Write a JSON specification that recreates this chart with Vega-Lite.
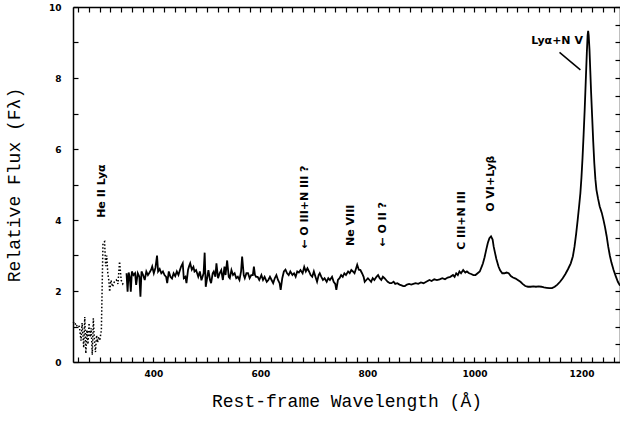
{
  "$schema": "https://vega.github.io/schema/vega-lite/v6.json",
  "width": 547,
  "height": 355,
  "autosize": {"type": "none"},
  "padding": {"left": 73, "top": 7, "right": 0, "bottom": 60},
  "background": "white",
  "config": {
    "view": {"stroke": null},
    "axis": {
      "domainColor": "black", "domainWidth": 1.5, "tickColor": "black", "tickWidth": 1.2, "ticks": true,
      "labelFont": "DejaVu Sans", "labelFontWeight": "bold", "labelFontSize": 9, "labelColor": "black",
      "titleFont": "Liberation Mono", "titleFontWeight": "normal", "titleFontSize": 18, "titleColor": "black",
      "grid": false, "labelOverlap": false, "labelFlush": false
    }
  },
  "datasets": {
    "specdata": [
      {"w":250,"f":1.10,"p":"d"},{"w":253,"f":1.13,"p":"d"},{"w":256,"f":1.00,"p":"d"},{"w":259,"f":1.05,"p":"d"},{"w":262,"f":0.99,"p":"d"},{"w":265,"f":0.60,"p":"d"},{"w":267,"f":1.10,"p":"d"},{"w":270,"f":0.40,"p":"d"},{"w":272,"f":1.27,"p":"d"},{"w":274,"f":0.24,"p":"d"},{"w":276,"f":0.90,"p":"d"},{"w":278,"f":0.50,"p":"d"},{"w":280,"f":1.10,"p":"d"},{"w":282,"f":0.70,"p":"d"},{"w":284,"f":0.95,"p":"d"},{"w":286,"f":0.20,"p":"d"},{"w":288,"f":1.23,"p":"d"},{"w":290,"f":0.60,"p":"d"},{"w":292,"f":0.28,"p":"d"},{"w":294,"f":0.75,"p":"d"},{"w":296,"f":0.55,"p":"d"},{"w":298,"f":0.71,"p":"d"},{"w":300,"f":0.60,"p":"d"},{"w":303,"f":0.90,"p":"d"},{"w":306,"f":3.35,"p":"d"},{"w":309,"f":3.39,"p":"d"},{"w":311,"f":2.70,"p":"d"},{"w":313,"f":3.00,"p":"d"},{"w":315,"f":2.50,"p":"d"},{"w":317,"f":2.30,"p":"d"},{"w":318.5,"f":1.98,"p":"d"},{"w":321,"f":2.30,"p":"d"},{"w":324,"f":2.12,"p":"d"},{"w":327,"f":2.25,"p":"d"},{"w":331,"f":2.31,"p":"d"},{"w":334,"f":2.20,"p":"d"},{"w":337,"f":2.83,"p":"d"},{"w":340,"f":2.31,"p":"d"},{"w":343,"f":2.20,"p":"d"},{"w":346,"f":2.26,"p":"d"},
      {"w":350,"f":2.50,"p":"s"},{"w":352,"f":1.98,"p":"s"},{"w":354,"f":2.52,"p":"s"},{"w":356,"f":2.40,"p":"s"},{"w":358,"f":1.98,"p":"s"},{"w":360,"f":2.55,"p":"s"},{"w":363,"f":2.45,"p":"s"},{"w":366,"f":2.50,"p":"s"},{"w":368,"f":2.17,"p":"s"},{"w":371,"f":2.50,"p":"s"},{"w":374,"f":2.40,"p":"s"},{"w":376,"f":1.84,"p":"s"},{"w":378,"f":2.55,"p":"s"},{"w":381,"f":2.45,"p":"s"},{"w":384,"f":2.31,"p":"s"},{"w":387,"f":2.55,"p":"s"},{"w":390,"f":2.45,"p":"s"},{"w":393,"f":2.52,"p":"s"},{"w":396,"f":2.60,"p":"s"},{"w":398,"f":2.69,"p":"s"},{"w":401,"f":2.50,"p":"s"},{"w":404,"f":2.65,"p":"s"},{"w":407,"f":3.00,"p":"s"},{"w":409,"f":2.55,"p":"s"},{"w":412,"f":2.62,"p":"s"},{"w":415,"f":2.50,"p":"s"},{"w":418,"f":2.55,"p":"s"},{"w":421,"f":2.45,"p":"s"},{"w":424,"f":2.40,"p":"s"},{"w":426,"f":2.22,"p":"s"},{"w":429,"f":2.55,"p":"s"},{"w":432,"f":2.40,"p":"s"},{"w":435,"f":2.35,"p":"s"},{"w":438,"f":2.50,"p":"s"},{"w":441,"f":2.42,"p":"s"},{"w":444,"f":2.55,"p":"s"},{"w":447,"f":2.45,"p":"s"},{"w":450,"f":2.60,"p":"s"},{"w":452,"f":2.69,"p":"s"},{"w":455,"f":2.78,"p":"s"},{"w":457,"f":2.36,"p":"s"},{"w":460,"f":2.40,"p":"s"},{"w":462,"f":2.22,"p":"s"},{"w":465,"f":2.60,"p":"s"},{"w":467,"f":2.70,"p":"s"},{"w":469,"f":2.78,"p":"s"},{"w":472,"f":2.60,"p":"s"},{"w":475,"f":2.68,"p":"s"},{"w":477,"f":2.55,"p":"s"},{"w":480,"f":2.59,"p":"s"},{"w":484,"f":2.40,"p":"s"},{"w":487,"f":2.55,"p":"s"},{"w":490,"f":2.30,"p":"s"},{"w":494,"f":2.50,"p":"s"},{"w":496,"f":3.08,"p":"s"},{"w":498,"f":2.12,"p":"s"},{"w":501,"f":2.40,"p":"s"},{"w":503,"f":2.59,"p":"s"},{"w":506,"f":2.31,"p":"s"},{"w":508,"f":2.22,"p":"s"},{"w":511,"f":2.50,"p":"s"},{"w":513,"f":2.55,"p":"s"},{"w":516,"f":2.40,"p":"s"},{"w":518,"f":2.78,"p":"s"},{"w":521,"f":2.36,"p":"s"},{"w":524,"f":2.50,"p":"s"},{"w":527,"f":2.59,"p":"s"},{"w":530,"f":2.31,"p":"s"},{"w":533,"f":2.69,"p":"s"},{"w":535,"f":2.45,"p":"s"},{"w":538,"f":2.86,"p":"s"},{"w":541,"f":2.40,"p":"s"},{"w":543,"f":2.36,"p":"s"},{"w":546,"f":2.59,"p":"s"},{"w":549,"f":2.45,"p":"s"},{"w":552,"f":2.50,"p":"s"},{"w":555,"f":2.36,"p":"s"},{"w":558,"f":2.40,"p":"s"},{"w":561,"f":2.31,"p":"s"},{"w":564,"f":2.55,"p":"s"},{"w":566,"f":2.97,"p":"s"},{"w":569,"f":2.45,"p":"s"},{"w":571,"f":2.36,"p":"s"},{"w":574,"f":2.50,"p":"s"},{"w":577,"f":2.50,"p":"s"},{"w":580,"f":2.36,"p":"s"},{"w":583,"f":2.45,"p":"s"},{"w":586,"f":2.45,"p":"s"},{"w":588,"f":2.69,"p":"s"},{"w":590,"f":2.45,"p":"s"},{"w":592,"f":2.40,"p":"s"},{"w":595,"f":2.40,"p":"s"},{"w":598,"f":2.31,"p":"s"},{"w":602,"f":2.45,"p":"s"},{"w":605,"f":2.31,"p":"s"},{"w":608,"f":2.40,"p":"s"},{"w":612,"f":2.26,"p":"s"},{"w":615,"f":2.31,"p":"s"},{"w":618,"f":2.40,"p":"s"},{"w":621,"f":2.31,"p":"s"},{"w":624,"f":2.22,"p":"s"},{"w":627,"f":2.36,"p":"s"},{"w":630,"f":2.45,"p":"s"},{"w":633,"f":2.31,"p":"s"},{"w":636,"f":2.22,"p":"s"},{"w":638,"f":2.03,"p":"s"},{"w":641,"f":2.36,"p":"s"},{"w":644,"f":2.55,"p":"s"},{"w":647,"f":2.60,"p":"s"},{"w":650,"f":2.50,"p":"s"},{"w":653,"f":2.45,"p":"s"},{"w":656,"f":2.55,"p":"s"},{"w":660,"f":2.45,"p":"s"},{"w":663,"f":2.50,"p":"s"},{"w":666,"f":2.40,"p":"s"},{"w":669,"f":2.55,"p":"s"},{"w":672,"f":2.52,"p":"s"},{"w":675,"f":2.59,"p":"s"},{"w":679,"f":2.50,"p":"s"},{"w":682,"f":2.68,"p":"s"},{"w":685,"f":2.55,"p":"s"},{"w":688,"f":2.64,"p":"s"},{"w":691,"f":2.55,"p":"s"},{"w":694,"f":2.45,"p":"s"},{"w":697,"f":2.40,"p":"s"},{"w":700,"f":2.55,"p":"s"},{"w":703,"f":2.40,"p":"s"},{"w":706,"f":2.26,"p":"s"},{"w":709,"f":2.45,"p":"s"},{"w":711,"f":2.50,"p":"s"},{"w":714,"f":2.40,"p":"s"},{"w":717,"f":2.31,"p":"s"},{"w":720,"f":2.36,"p":"s"},{"w":724,"f":2.26,"p":"s"},{"w":727,"f":2.36,"p":"s"},{"w":730,"f":2.31,"p":"s"},{"w":734,"f":2.40,"p":"s"},{"w":737,"f":2.26,"p":"s"},{"w":740,"f":2.20,"p":"s"},{"w":742,"f":2.03,"p":"s"},{"w":745,"f":2.31,"p":"s"},{"w":748,"f":2.36,"p":"s"},{"w":751,"f":2.45,"p":"s"},{"w":754,"f":2.40,"p":"s"},{"w":757,"f":2.50,"p":"s"},{"w":760,"f":2.45,"p":"s"},{"w":764,"f":2.55,"p":"s"},{"w":767,"f":2.50,"p":"s"},{"w":770,"f":2.59,"p":"s"},{"w":773,"f":2.55,"p":"s"},{"w":776,"f":2.50,"p":"s"},{"w":779,"f":2.64,"p":"s"},{"w":781,"f":2.74,"p":"s"},{"w":784,"f":2.60,"p":"s"},{"w":787,"f":2.59,"p":"s"},{"w":790,"f":2.50,"p":"s"},{"w":793,"f":2.40,"p":"s"},{"w":795,"f":2.26,"p":"s"},{"w":798,"f":2.31,"p":"s"},{"w":801,"f":2.36,"p":"s"},{"w":804,"f":2.31,"p":"s"},{"w":807,"f":2.26,"p":"s"},{"w":810,"f":2.36,"p":"s"},{"w":813,"f":2.31,"p":"s"},{"w":817,"f":2.40,"p":"s"},{"w":820,"f":2.45,"p":"s"},{"w":823,"f":2.36,"p":"s"},{"w":826,"f":2.31,"p":"s"},{"w":829,"f":2.40,"p":"s"},{"w":832,"f":2.36,"p":"s"},{"w":835,"f":2.31,"p":"s"},{"w":838,"f":2.26,"p":"s"},{"w":842,"f":2.22,"p":"s"},{"w":845,"f":2.22,"p":"s"},{"w":849,"f":2.26,"p":"s"},{"w":852,"f":2.20,"p":"s"},{"w":856,"f":2.22,"p":"s"},{"w":860,"f":2.18,"p":"s"},{"w":864,"f":2.16,"p":"s"},{"w":867,"f":2.14,"p":"s"},{"w":870,"f":2.14,"p":"s"},{"w":874,"f":2.18,"p":"s"},{"w":878,"f":2.20,"p":"s"},{"w":882,"f":2.18,"p":"s"},{"w":886,"f":2.20,"p":"s"},{"w":890,"f":2.22,"p":"s"},{"w":895,"f":2.20,"p":"s"},{"w":900,"f":2.24,"p":"s"},{"w":905,"f":2.22,"p":"s"},{"w":910,"f":2.26,"p":"s"},{"w":916,"f":2.31,"p":"s"},{"w":920,"f":2.28,"p":"s"},{"w":925,"f":2.33,"p":"s"},{"w":930,"f":2.31,"p":"s"},{"w":935,"f":2.33,"p":"s"},{"w":940,"f":2.36,"p":"s"},{"w":945,"f":2.33,"p":"s"},{"w":950,"f":2.38,"p":"s"},{"w":955,"f":2.40,"p":"s"},{"w":960,"f":2.45,"p":"s"},{"w":963,"f":2.40,"p":"s"},{"w":966,"f":2.50,"p":"s"},{"w":969,"f":2.45,"p":"s"},{"w":972,"f":2.55,"p":"s"},{"w":975,"f":2.50,"p":"s"},{"w":979,"f":2.59,"p":"s"},{"w":983,"f":2.52,"p":"s"},{"w":986,"f":2.55,"p":"s"},{"w":990,"f":2.50,"p":"s"},{"w":994,"f":2.48,"p":"s"},{"w":998,"f":2.45,"p":"s"},{"w":1002,"f":2.45,"p":"s"},{"w":1006,"f":2.50,"p":"s"},{"w":1010,"f":2.55,"p":"s"},{"w":1014,"f":2.70,"p":"s"},{"w":1016,"f":2.78,"p":"s"},{"w":1019,"f":2.95,"p":"s"},{"w":1022,"f":3.16,"p":"s"},{"w":1025,"f":3.35,"p":"s"},{"w":1028,"f":3.49,"p":"s"},{"w":1031,"f":3.54,"p":"s"},{"w":1034,"f":3.45,"p":"s"},{"w":1036,"f":3.25,"p":"s"},{"w":1038,"f":3.11,"p":"s"},{"w":1041,"f":2.90,"p":"s"},{"w":1045,"f":2.69,"p":"s"},{"w":1048,"f":2.58,"p":"s"},{"w":1052,"f":2.50,"p":"s"},{"w":1056,"f":2.50,"p":"s"},{"w":1060,"f":2.52,"p":"s"},{"w":1064,"f":2.50,"p":"s"},{"w":1068,"f":2.42,"p":"s"},{"w":1072,"f":2.38,"p":"s"},{"w":1077,"f":2.35,"p":"s"},{"w":1081,"f":2.31,"p":"s"},{"w":1086,"f":2.26,"p":"s"},{"w":1090,"f":2.20,"p":"s"},{"w":1095,"f":2.14,"p":"s"},{"w":1100,"f":2.12,"p":"s"},{"w":1105,"f":2.12,"p":"s"},{"w":1110,"f":2.13,"p":"s"},{"w":1115,"f":2.12,"p":"s"},{"w":1120,"f":2.13,"p":"s"},{"w":1125,"f":2.12,"p":"s"},{"w":1130,"f":2.10,"p":"s"},{"w":1135,"f":2.09,"p":"s"},{"w":1140,"f":2.08,"p":"s"},{"w":1145,"f":2.08,"p":"s"},{"w":1150,"f":2.12,"p":"s"},{"w":1155,"f":2.18,"p":"s"},{"w":1160,"f":2.26,"p":"s"},{"w":1165,"f":2.36,"p":"s"},{"w":1170,"f":2.48,"p":"s"},{"w":1175,"f":2.62,"p":"s"},{"w":1180,"f":2.78,"p":"s"},{"w":1184,"f":2.98,"p":"s"},{"w":1187,"f":3.25,"p":"s"},{"w":1190,"f":3.60,"p":"s"},{"w":1193,"f":4.01,"p":"s"},{"w":1196,"f":4.45,"p":"s"},{"w":1198,"f":4.76,"p":"s"},{"w":1200,"f":5.20,"p":"s"},{"w":1202,"f":5.75,"p":"s"},{"w":1204,"f":6.40,"p":"s"},{"w":1206,"f":7.10,"p":"s"},{"w":1208,"f":7.90,"p":"s"},{"w":1210,"f":8.70,"p":"s"},{"w":1211.5,"f":9.20,"p":"s"},{"w":1212.5,"f":9.33,"p":"s"},{"w":1213.5,"f":9.20,"p":"s"},{"w":1215,"f":8.80,"p":"s"},{"w":1216.5,"f":8.20,"p":"s"},{"w":1218,"f":7.60,"p":"s"},{"w":1220,"f":6.90,"p":"s"},{"w":1222,"f":6.20,"p":"s"},{"w":1224,"f":5.60,"p":"s"},{"w":1226,"f":5.15,"p":"s"},{"w":1228,"f":4.85,"p":"s"},{"w":1231,"f":4.60,"p":"s"},{"w":1234,"f":4.39,"p":"s"},{"w":1238,"f":4.20,"p":"s"},{"w":1241,"f":4.01,"p":"s"},{"w":1244,"f":3.80,"p":"s"},{"w":1247,"f":3.55,"p":"s"},{"w":1250,"f":3.25,"p":"s"},{"w":1253,"f":3.00,"p":"s"},{"w":1256,"f":2.80,"p":"s"},{"w":1260,"f":2.59,"p":"s"},{"w":1264,"f":2.42,"p":"s"},{"w":1268,"f":2.26,"p":"s"},{"w":1272,"f":2.15,"p":"s"}
    ],
    "annotv": [
      {"w":304,"f":4.06,"t":"He II Lyα"},
      {"w":684,"f":3.19,"t":"← O III+N III ?"},
      {"w":769,"f":3.27,"t":"Ne VIII"},
      {"w":829,"f":3.25,"t":"← O II ?"},
      {"w":976,"f":3.16,"t":"C III+N III"},
      {"w":1031,"f":4.23,"t":"O VI+Lyβ"}
    ],
    "annoth": [{"w":1202.7,"f":9.05,"t":"Lyα+N V"}],
    "ptrdata": [{"w":1159,"f":8.72,"w2":1198,"f2":8.23}]
  },
  "resolve": {"axis": {"x": "independent", "y": "independent"}},
  "layer": [
    {
      "encoding": {
        "x": {"field": "w", "type": "quantitative", "scale": {"domain": [250, 1272], "nice": false, "zero": false},
          "axis": {"orient": "bottom",
            "values": [260,280,300,320,340,360,380,400,420,440,460,480,500,520,540,560,580,600,620,640,660,680,700,720,740,760,780,800,820,840,860,880,900,920,940,960,980,1000,1020,1040,1060,1080,1100,1120,1140,1160,1180,1200,1220,1240,1260],
            "labelExpr": "datum.value % 200 == 0 ? datum.label : ''",
            "tickSize": -5, "labelPadding": 12, "format": "d",
            "title": "Rest-frame Wavelength (Å)", "titleY": 39, "titleBaseline": "middle"}},
        "y": {"field": "f", "type": "quantitative", "scale": {"domain": [0, 10], "nice": false},
          "axis": {"orient": "left",
            "values": [0,0.5,1,1.5,2,2.5,3,3.5,4,4.5,5,5.5,6,6.5,7,7.5,8,8.5,9,9.5,10],
            "labelExpr": "datum.value % 2 == 0 ? datum.label : ''",
            "tickSize": -5, "labelPadding": 17, "format": "d",
            "title": "Relative Flux (Fλ)", "titleX": -59, "titleY": 177.5, "titleBaseline": "middle", "titleAngle": 270}}
      },
      "layer": [
        {
          "data": {"name": "specdata"},
          "transform": [{"filter": "datum.p == 'd'"}],
          "mark": {"type": "line", "strokeDash": [1.5, 2], "strokeWidth": 1.5, "color": "black"}
        },
        {
          "data": {"name": "annotv"},
          "mark": {"type": "text", "angle": 270, "align": "left", "baseline": "middle", "font": "DejaVu Sans", "fontWeight": "bold", "fontSize": 11, "color": "black"},
          "encoding": {"text": {"field": "t"}}
        }
      ]
    },
    {
      "encoding": {
        "x": {"field": "w", "type": "quantitative", "scale": {"domain": [250, 1272], "nice": false, "zero": false},
          "axis": {"orient": "top",
            "values": [260,280,300,320,340,360,380,400,420,440,460,480,500,520,540,560,580,600,620,640,660,680,700,720,740,760,780,800,820,840,860,880,900,920,940,960,980,1000,1020,1040,1060,1080,1100,1120,1140,1160,1180,1200,1220,1240,1260],
            "labels": false, "title": null, "tickSize": -5}},
        "y": {"field": "f", "type": "quantitative", "scale": {"domain": [0, 10], "nice": false},
          "axis": {"orient": "right",
            "values": [0,0.5,1,1.5,2,2.5,3,3.5,4,4.5,5,5.5,6,6.5,7,7.5,8,8.5,9,9.5,10],
            "labels": false, "title": null, "tickSize": -5}}
      },
      "layer": [
        {
          "data": {"name": "specdata"},
          "transform": [{"filter": "datum.p == 's'"}],
          "mark": {"type": "line", "strokeWidth": 1.8, "color": "black"}
        },
        {
          "data": {"name": "annoth"},
          "mark": {"type": "text", "align": "right", "baseline": "middle", "font": "DejaVu Sans", "fontWeight": "bold", "fontSize": 11, "color": "black"},
          "encoding": {"text": {"field": "t"}}
        },
        {
          "data": {"name": "ptrdata"},
          "mark": {"type": "rule", "strokeWidth": 1.5, "color": "black"},
          "encoding": {"x2": {"field": "w2"}, "y2": {"field": "f2"}}
        }
      ]
    }
  ]
}
